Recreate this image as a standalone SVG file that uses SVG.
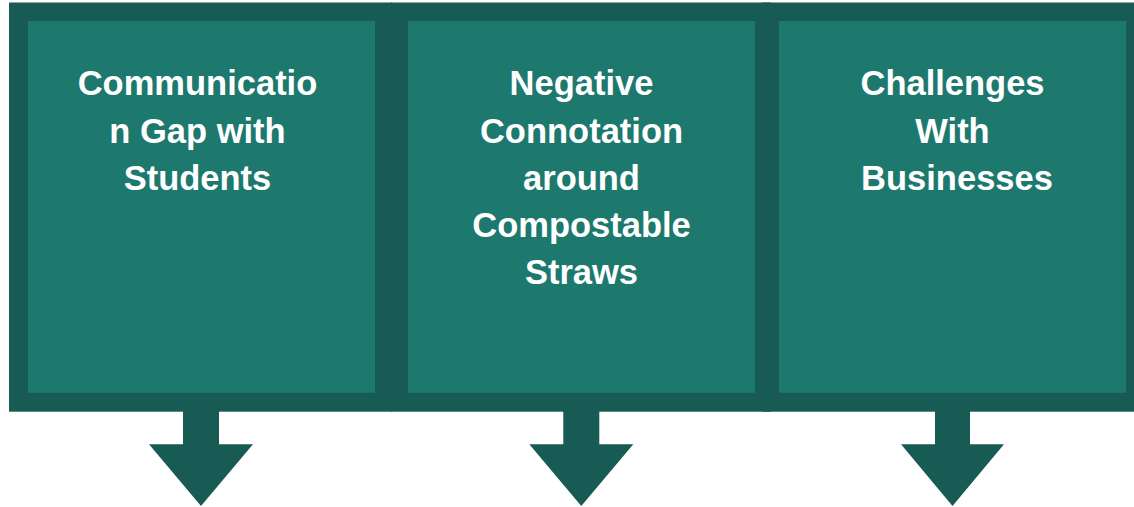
<svg xmlns="http://www.w3.org/2000/svg" width="1134" height="507" viewBox="0 0 1134 507">
<style>
.frame{fill:#175b54}
.inner{fill:#1d786d}
.arrow{fill:#175b54}
.lbl{font-family:"Liberation Sans",Arial,sans-serif;font-weight:bold;font-size:34.5px;fill:#ffffff;text-anchor:middle}
</style>
<rect x="0" y="0" width="1134" height="507" fill="#ffffff"/>
<g id="connectors">
<polygon class="arrow" points="183,410 219,410 219,444.3 253,444.3 201,506 149,444.3 183,444.3"/>
<polygon class="arrow" points="563.3,410 599.3,410 599.3,444.3 633.3,444.3 581.3,506 529.3,444.3 563.3,444.3"/>
<polygon class="arrow" points="935,410 970,410 970,444.3 1004,444.3 952.5,506 901,444.3 935,444.3"/>
</g>
<g id="node1">
<rect class="frame" x="9" y="2.5" width="383" height="409.2"/>
<rect class="inner" x="28" y="21" width="347" height="371.8"/>
<text class="lbl" x="197.5"><tspan x="197.5" y="95">Communicatio</tspan><tspan x="197.5" y="142.5">n Gap with</tspan><tspan x="197.5" y="190">Students</tspan></text>
</g>
<g id="node2">
<rect class="frame" x="391" y="2.5" width="380" height="409.2"/>
<rect class="inner" x="408" y="21" width="347" height="371.8"/>
<text class="lbl" x="581.5"><tspan x="581.5" y="95">Negative</tspan><tspan x="581.5" y="142.5">Connotation</tspan><tspan x="581.5" y="190">around</tspan><tspan x="581.5" y="237">Compostable</tspan><tspan x="581.5" y="284">Straws</tspan></text>
</g>
<g id="node3">
<rect class="frame" x="762" y="2.5" width="372" height="409.2"/>
<rect class="inner" x="779" y="21" width="347" height="371.8"/>
<text class="lbl" x="953"><tspan x="952.5" y="95">Challenges</tspan><tspan x="952.5" y="142.5">With</tspan><tspan x="957" y="190">Businesses</tspan></text>
</g>
</svg>
